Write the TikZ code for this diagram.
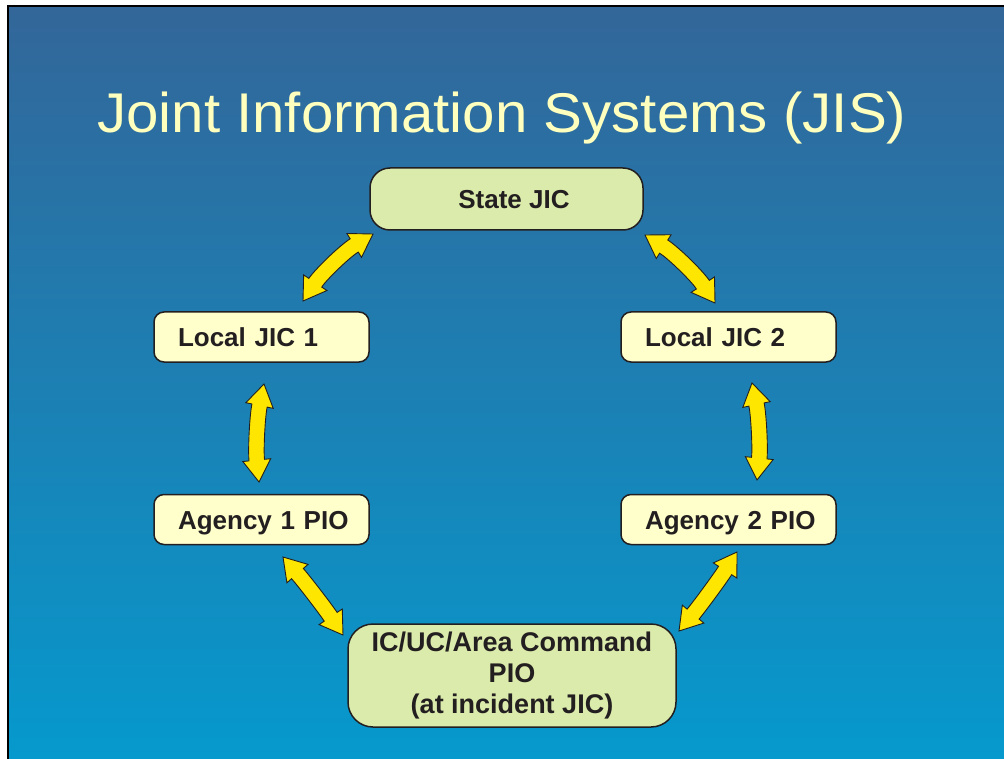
\documentclass[tikz,border=0pt]{standalone}
\usepackage{fontspec}
\setmainfont{Liberation Sans}
\usetikzlibrary{calc}
\definecolor{slidetop}{RGB}{51,102,153}
\definecolor{slidebot}{RGB}{6,153,205}
\definecolor{titleyellow}{RGB}{255,255,190}
\definecolor{boxgreen}{RGB}{219,235,172}
\definecolor{boxyellow}{RGB}{255,255,204}
\definecolor{boxline}{RGB}{35,31,32}
\definecolor{arrowyellow}{RGB}{255,230,0}
\tikzset{
  boxbase/.style={draw=boxline, line width=1.5pt, text=boxline, inner ysep=0pt,
    font=\bfseries\fontsize{26}{31}\selectfont},
  smallbox/.style={boxbase, fill=boxyellow, rounded corners=10pt, minimum width=215pt,
    minimum height=50pt, text width=191pt, inner xsep=12pt, align=left,
    text height=19pt, text depth=0pt},
  fatarrowstyle/.style={fill=arrowyellow, draw=boxline, line width=0.9pt, line join=miter}
}
\newcommand\hl{22pt}
\newcommand\hw{14pt}
\newcommand\sw{7.8pt}
\newcommand\fatarrow[3]{%
  \path ($(#1)!0.33!(#2)!#3!90:(#2)$) coordinate (c1)
        ($(#1)!0.67!(#2)!#3!90:(#2)$) coordinate (c2);
  \filldraw[fatarrowstyle] (#1)
    -- ($(#1)!\hl!(c1)!\hw!90:(c1)$)
    -- ($(#1)!\hl!(c1)!\sw!90:(c1)$)
    .. controls ($(c1)!\sw!90:(#2)$) and ($(c2)!\sw!-90:(#1)$) ..
       ($(#2)!\hl!(c2)!\sw!-90:(c2)$)
    -- ($(#2)!\hl!(c2)!\hw!-90:(c2)$)
    -- (#2)
    -- ($(#2)!\hl!(c2)!\hw!90:(c2)$)
    -- ($(#2)!\hl!(c2)!\sw!90:(c2)$)
    .. controls ($(c2)!\sw!90:(#1)$) and ($(c1)!\sw!-90:(#2)$) ..
       ($(#1)!\hl!(c1)!\sw!-90:(c1)$)
    -- ($(#1)!\hl!(c1)!\hw!-90:(c1)$)
    -- cycle;
}
\begin{document}
\begin{tikzpicture}[x=1pt,y=-1pt]
\useasboundingbox (0,0) rectangle (1004,759);
\shade[top color=slidetop, bottom color=slidebot] (8,6) rectangle (1004,759);
\draw[line width=1.5pt, black] (8,759) -- (8,6) -- (1004,6);

\node[anchor=base west, text=titleyellow, inner sep=0pt,
  font=\fontsize{56}{60}\selectfont] (title) at (97,133)
  {\scalebox{1.04}[1]{Joint Information Systems (JIS)}};

\node[boxbase, fill=boxgreen, rounded corners=20pt, minimum width=273pt,
  minimum height=62pt, text height=19pt, text depth=0pt] (state) at (506.5,199)
  {\hspace*{15pt}State JIC};
\node[smallbox] (local1) at (261.5,337) {\hspace*{12pt}Local JIC 1};
\node[smallbox] (local2) at (728.5,337) {\hspace*{12pt}Local JIC 2};
\node[smallbox] (agency1) at (261.5,519.5) {\hspace*{12pt}Agency 1 PIO};
\node[smallbox] (agency2) at (728.5,519.5) {\hspace*{12pt}Agency 2 PIO};
\node[boxbase, fill=boxgreen, rounded corners=25pt, minimum width=328pt,
  minimum height=103pt, align=center, font=\bfseries\fontsize{27}{31}\selectfont]
  (ic) at (512,675.5)
  {IC/UC/Area Command\\PIO\\(at incident JIC)};

\coordinate (a1s) at (303,301);
\coordinate (a1e) at (373,234);
\coordinate (a2s) at (645,235);
\coordinate (a2e) at (715,303);
\coordinate (a3s) at (264,384);
\coordinate (a3e) at (259,482);
\coordinate (a4s) at (752,383);
\coordinate (a4e) at (757,480);
\coordinate (a5s) at (283,557);
\coordinate (a5e) at (343,635);
\coordinate (a6s) at (737,552);
\coordinate (a6e) at (679,631);

\fatarrow{a1s}{a1e}{7pt}
\fatarrow{a2s}{a2e}{7pt}
\fatarrow{a3s}{a3e}{-5pt}
\fatarrow{a4s}{a4e}{5pt}
\fatarrow{a5s}{a5e}{2pt}
\fatarrow{a6s}{a6e}{2pt}
\end{tikzpicture}
\end{document}
